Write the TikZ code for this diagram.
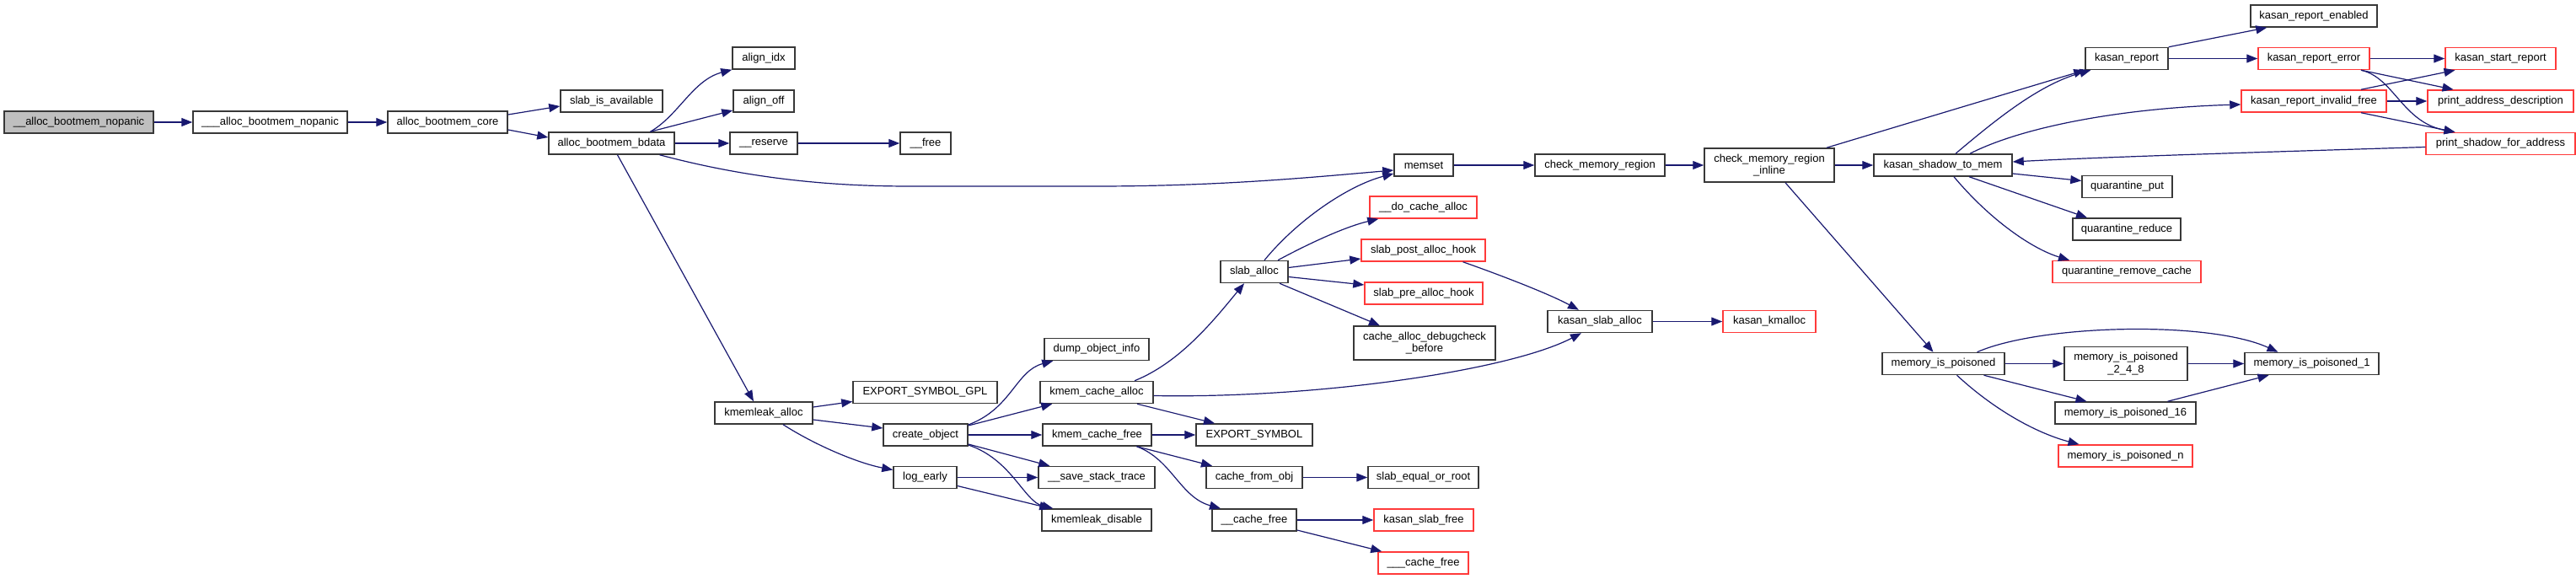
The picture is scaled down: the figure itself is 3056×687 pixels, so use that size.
\documentclass[tikz,border=0pt]{standalone}
\usepackage{fontspec}
\setmainfont{Liberation Sans}
\usetikzlibrary{arrows.meta}
\definecolor{edgeblue}{HTML}{191970}
\definecolor{boxgray}{HTML}{383838}
\definecolor{boxred}{HTML}{FF3A3A}
\definecolor{rootfill}{HTML}{BFBFBF}
\tikzset{
  box/.style={draw=boxgray, line width=1.5pt, fill=white, rectangle, inner sep=0pt,
    minimum height=26pt, align=center, font=\fontsize{13}{14.3}\selectfont},
  redbox/.style={box, draw=boxred},
  tallbox/.style={minimum height=40pt},
  edge/.style={draw=edgeblue, line width=1.2pt, -{Triangle[length=13pt,width=10pt]}},
}
\begin{document}
\begin{tikzpicture}[x=1pt,y=-1pt]
\useasboundingbox (0,0) rectangle (3056,687);
\fill[white] (0,0) rectangle (3056,687);
% nodes
\node[box, fill=rootfill, minimum width=177pt] (n0) at (93.5,145) {\_\_alloc\_bootmem\_nopanic};
\node[box, minimum width=183pt] (n1) at (320.5,145) {\_\_\_alloc\_bootmem\_nopanic};
\node[box, minimum width=142pt] (n2) at (531,145) {alloc\_bootmem\_core};
\node[box, minimum width=121pt] (n3) at (725.5,120) {slab\_is\_available};
\node[box, minimum width=149pt] (n4) at (725.5,170) {alloc\_bootmem\_bdata};
\node[box, minimum width=74pt] (n5) at (906,69) {align\_idx};
\node[box, minimum width=72pt] (n6) at (906,120) {align\_off};
\node[box, minimum width=80pt] (n7) at (906,170) {\_\_reserve};
\node[box, minimum width=60pt] (n8) at (1098,170) {\_\_free};
\node[box, minimum width=70pt] (n9) at (1689,196) {memset};
\node[box, minimum width=154pt] (n10) at (1898,196) {check\_memory\_region};
\node[box, tallbox, minimum width=154pt] (n11) at (2099,196) {check\_memory\_region\\\_inline};
\node[box, minimum width=164pt] (n12) at (2305,196) {kasan\_shadow\_to\_mem};
\node[box, minimum width=98pt] (n13) at (2523,69.5) {kasan\_report};
\node[box, minimum width=150pt] (n14) at (2745,19) {kasan\_report\_enabled};
\node[redbox, minimum width=132pt] (n15) at (2745,69.5) {kasan\_report\_error};
\node[redbox, minimum width=131pt] (n16) at (2966.5,69.5) {kasan\_start\_report};
\node[redbox, minimum width=172pt] (n17) at (2745,120) {kasan\_report\_invalid\_free};
\node[redbox, minimum width=173pt] (n18) at (2966.5,120) {print\_address\_description};
\node[redbox, minimum width=177pt] (n19) at (2966.5,170.5) {print\_shadow\_for\_address};
\node[box, minimum width=107pt] (n20) at (2523.5,221.5) {quarantine\_put};
\node[box, minimum width=128pt] (n21) at (2523,272) {quarantine\_reduce};
\node[redbox, minimum width=176pt] (n22) at (2523,322.5) {quarantine\_remove\_cache};
\node[box, minimum width=80pt] (n23) at (1488,322.5) {slab\_alloc};
\node[redbox, minimum width=127pt] (n24) at (1688.5,246) {\_\_do\_cache\_alloc};
\node[redbox, minimum width=147pt] (n25) at (1688.5,297) {slab\_post\_alloc\_hook};
\node[redbox, minimum width=140pt] (n26) at (1689,348) {slab\_pre\_alloc\_hook};
\node[box, tallbox, minimum width=168pt] (n27) at (1690,407) {cache\_alloc\_debugcheck\\\_before};
\node[box, minimum width=124pt] (n28) at (1898,381.5) {kasan\_slab\_alloc};
\node[redbox, minimum width=110pt] (n29) at (2099,381.5) {kasan\_kmalloc};
\node[box, minimum width=116pt] (n30) at (906,490) {kmemleak\_alloc};
\node[box, minimum width=171pt] (n31) at (1097.5,465.5) {EXPORT\_SYMBOL\_GPL};
\node[box, minimum width=100pt] (n32) at (1098,516) {create\_object};
\node[box, minimum width=75pt] (n33) at (1097.5,566.5) {log\_early};
\node[box, minimum width=124pt] (n34) at (1301,414.5) {dump\_object\_info};
\node[box, minimum width=134pt] (n35) at (1301,465.5) {kmem\_cache\_alloc};
\node[box, minimum width=129pt] (n36) at (1301.5,516) {kmem\_cache\_free};
\node[box, minimum width=138pt] (n37) at (1301,566.5) {\_\_save\_stack\_trace};
\node[box, minimum width=130pt] (n38) at (1301,617) {kmemleak\_disable};
\node[box, minimum width=138pt] (n39) at (1488,516) {EXPORT\_SYMBOL};
\node[box, minimum width=114pt] (n40) at (1488,566.5) {cache\_from\_obj};
\node[box, minimum width=100pt] (n41) at (1488,617) {\_\_cache\_free};
\node[box, minimum width=131pt] (n42) at (1688.5,566.5) {slab\_equal\_or\_root};
\node[redbox, minimum width=118pt] (n43) at (1689,617) {kasan\_slab\_free};
\node[redbox, minimum width=107pt] (n44) at (1688.5,668) {\_\_\_cache\_free};
\node[box, minimum width=145pt] (n45) at (2305.5,431.5) {memory\_is\_poisoned};
\node[box, tallbox, minimum width=146pt] (n46) at (2522,431.5) {memory\_is\_poisoned\\\_2\_4\_8};
\node[box, minimum width=159pt] (n47) at (2742.5,431.5) {memory\_is\_poisoned\_1};
\node[box, minimum width=167pt] (n48) at (2521.5,490) {memory\_is\_poisoned\_16};
\node[redbox, minimum width=159pt] (n49) at (2521.5,541) {memory\_is\_poisoned\_n};
% edges
\draw[edge] (n0.east) -- (n1.west);
\draw[edge] (n1.east) -- (n2.west);
\draw[edge] ([yshift=9pt]n2.east) -- ([yshift=-6pt]n3.west);
\draw[edge] ([yshift=-9pt]n2.east) -- ([yshift=7pt]n4.west);
\draw[edge] ([xshift=46pt]n4.north) .. controls (805,137) and (822,95) .. (n5.south west);
\draw[edge] ([xshift=46pt]n4.north) -- ([yshift=-11pt]n6.west);
\draw[edge] (n4.east) -- (n7.west);
\draw[edge] (n7.east) -- (n8.west);
\draw[edge] ([xshift=57pt]n4.south) .. controls (900,215) and (1000,221) .. (1080,221) -- (1300,221) .. controls (1450,221) and (1560,210) .. ([yshift=-6pt]n9.west);
\draw[edge] ([xshift=7pt]n4.south) -- ([xshift=-12pt]n30.north);
\draw[edge] ([yshift=7pt]n30.east) -- ([yshift=-11pt]n31.west);
\draw[edge] ([yshift=-8pt]n30.east) -- ([yshift=8pt]n32.west);
\draw[edge] ([xshift=23pt]n30.south) .. controls (970,530) and (1020,550) .. ([yshift=9pt]n33.west);
\draw[edge] ([yshift=12pt]n32.east) .. controls (1200,485) and (1205,440) .. ([xshift=11pt]n34.south west);
\draw[edge] ([yshift=11pt]n32.east) -- ([xshift=15pt]n35.south west);
\draw[edge] (n32.east) -- (n36.west);
\draw[edge] ([yshift=-11pt]n32.east) -- ([xshift=14pt]n37.north west);
\draw[edge] ([yshift=-12pt]n32.east) .. controls (1200,545) and (1215,595) .. ([xshift=14pt]n38.north west);
\draw[edge] (n33.east) -- (n37.west);
\draw[edge] ([yshift=-10pt]n33.east) -- ([xshift=11pt]n38.north west);
\draw[edge] ([xshift=45pt]n35.north) .. controls (1400,430) and (1440,380) .. ([xshift=-12pt]n23.south);
\draw[edge] ([yshift=-4pt]n35.east) .. controls (1560,473) and (1790,440) .. ([xshift=-22pt]n28.south);
\draw[edge] ([xshift=48pt]n35.south) -- ([xshift=-47pt]n39.north);
\draw[edge] (n36.east) -- (n39.west);
\draw[edge] ([xshift=47pt]n36.south) -- ([xshift=-50pt]n40.north);
\draw[edge] ([xshift=47pt]n36.south) .. controls (1390,545) and (1400,590) .. ([xshift=-40pt]n41.north);
\draw[edge] (n40.east) -- (n42.west);
\draw[edge] (n41.east) -- (n43.west);
\draw[edge] ([yshift=-12pt]n41.east) -- ([xshift=5pt]n44.north west);
\draw[edge] ([xshift=12pt]n23.north) .. controls (1540,260) and (1600,220) .. ([yshift=-10pt]n9.west);
\draw[edge] ([xshift=28pt]n23.north) .. controls (1560,285) and (1600,268) .. ([xshift=11pt]n24.south west);
\draw[edge] ([yshift=5pt]n23.east) -- ([yshift=-10pt]n25.west);
\draw[edge] ([yshift=-6pt]n23.east) -- ([yshift=10pt]n26.west);
\draw[edge] ([xshift=30pt]n23.south) -- ([xshift=-53pt]n27.north);
\draw[edge] ([xshift=47pt]n25.south) .. controls (1790,330) and (1840,350) .. ([xshift=-25pt]n28.north);
\draw[edge] (n28.east) -- (n29.west);
\draw[edge] (n9.east) -- (n10.west);
\draw[edge] (n10.east) -- (n11.west);
\draw[edge] (n11.east) -- (n12.west);
\draw[edge] ([xshift=68pt]n11.north) -- (n13.south west);
\draw[edge] ([xshift=19pt]n11.south) -- ([xshift=-12pt]n45.north);
\draw[edge] ([xshift=15pt]n12.north) .. controls (2370,140) and (2420,100) .. ([xshift=7pt]n13.south west);
\draw[edge] ([xshift=32pt]n12.north) .. controls (2400,150) and (2520,128) .. ([yshift=-4pt]n17.west);
\draw[edge] ([yshift=-10pt]n12.east) -- ([yshift=7pt]n20.west);
\draw[edge] ([xshift=31pt]n12.south) -- ([xshift=-47pt]n21.north);
\draw[edge] ([xshift=13pt]n12.south) .. controls (2360,260) and (2410,295) .. ([xshift=-68pt]n22.north);
\draw[edge] ([yshift=-4pt]n19.west) .. controls (2700,180) and (2500,186) .. ([yshift=4pt]n12.east);
\draw[edge] (n13.north east) -- ([xshift=20pt]n14.south west);
\draw[edge] (n13.east) -- (n15.west);
\draw[edge] (n15.east) -- (n16.west);
\draw[edge] ([xshift=56pt]n15.south) -- ([xshift=-56pt]n18.north);
\draw[edge] ([xshift=56pt]n15.south) .. controls (2840,92) and (2850,145) .. ([xshift=-54pt]n19.north);
\draw[edge] ([xshift=56pt]n17.north) -- ([xshift=-54pt]n16.south);
\draw[edge] (n17.east) -- (n18.west);
\draw[edge] ([xshift=56pt]n17.south) -- ([xshift=-54pt]n19.north);
\draw[edge] (n45.east) -- (n46.west);
\draw[edge] ([xshift=40pt]n45.north) .. controls (2420,385) and (2620,380) .. ([xshift=-40pt]n47.north);
\draw[edge] ([xshift=48pt]n45.south) -- ([xshift=-46pt]n48.north);
\draw[edge] ([xshift=16pt]n45.south) .. controls (2370,490) and (2420,515) .. ([xshift=-55pt]n49.north);
\draw[edge] (n46.east) -- (n47.west);
\draw[edge] ([xshift=50pt]n48.north) -- ([xshift=-51pt]n47.south);
\end{tikzpicture}
\end{document}
